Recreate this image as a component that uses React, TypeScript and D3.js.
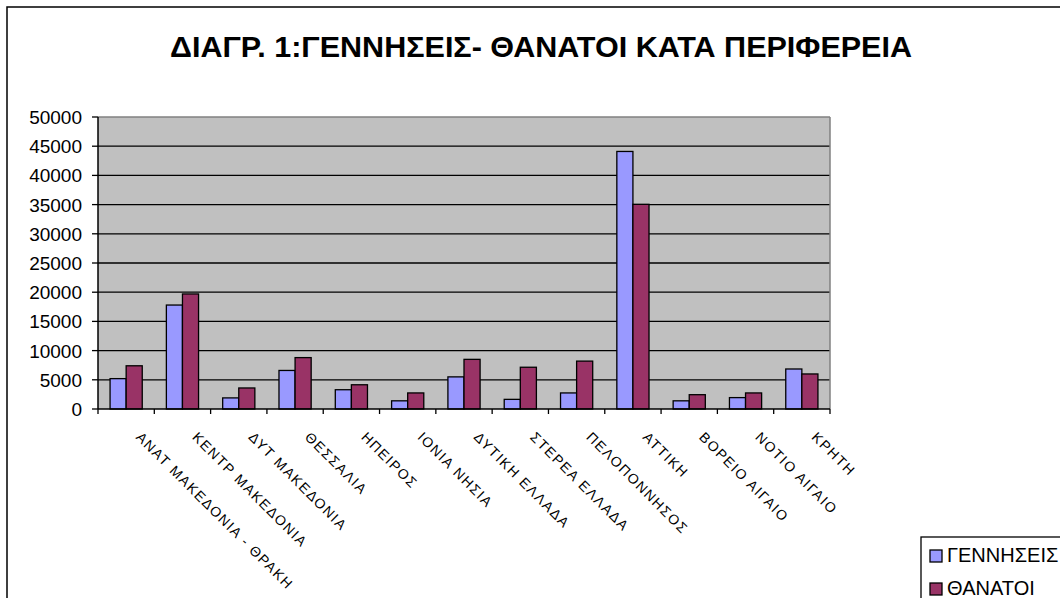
import * as React from 'react';
import * as d3 from 'd3';

const regions = [
  'ΑΝΑΤ ΜΑΚΕΔΟΝΙΑ - ΘΡΑΚΗ',
  'ΚΕΝΤΡ ΜΑΚΕΔΟΝΙΑ',
  'ΔΥΤ ΜΑΚΕΔΟΝΙΑ',
  'ΘΕΣΣΑΛΙΑ',
  'ΗΠΕΙΡΟΣ',
  'ΙΟΝΙΑ ΝΗΣΙΑ',
  'ΔΥΤΙΚΗ ΕΛΛΑΔΑ',
  'ΣΤΕΡΕΑ ΕΛΛΑΔΑ',
  'ΠΕΛΟΠΟΝΝΗΣΟΣ',
  'ΑΤΤΙΚΗ',
  'ΒΟΡΕΙΟ ΑΙΓΑΙΟ',
  'ΝΟΤΙΟ ΑΙΓΑΙΟ',
  'ΚΡΗΤΗ',
];

const births = [5200, 17800, 1900, 6600, 3300, 1400, 5500, 1650, 2750, 44100, 1400, 1950, 6850];
const deaths = [7400, 19700, 3600, 8800, 4150, 2750, 8500, 7150, 8200, 35050, 2450, 2750, 6000];

const seriesNames = ['ΓΕΝΝΗΣΕΙΣ', 'ΘΑΝΑΤΟΙ'];
const seriesColors = ['#9999FF', '#993366'];
const yTicks = [0, 5000, 10000, 15000, 20000, 25000, 30000, 35000, 40000, 45000, 50000];

const W = 1060;
const H = 598;
const plot = { left: 98, right: 830, top: 117, bottom: 409 };
const font = '"Liberation Sans", Arial, sans-serif';

export default function App() {
  const x = d3.scaleBand<string>().domain(regions).range([plot.left, plot.right]);
  const groupW = x.bandwidth() / 1.75;
  const inner = d3.scaleBand<string>().domain(seriesNames).range([0, groupW]);
  const y = d3.scaleLinear().domain([0, 50000]).range([plot.bottom, plot.top]);
  const series = [births, deaths];
  const bounds = regions.map((r) => x(r) as number).concat([plot.right]);

  return (
    <svg width={W} height={H} style={{ position: 'fixed', left: 0, top: 0, background: '#fff' }} fontFamily={font}>
      {/* chart frame, cut off at right and bottom */}
      <rect x={7} y={7} width={W + 20} height={H + 20} fill="#fff" stroke="#000" strokeWidth={1.5} />

      <text x={541} y={57} textAnchor="middle" fontSize={30} fontWeight="bold" textLength={742} lengthAdjust="spacingAndGlyphs">
        ΔΙΑΓΡ. 1:ΓΕΝΝΗΣΕΙΣ- ΘΑΝΑΤΟΙ ΚΑΤΑ ΠΕΡΙΦΕΡΕΙΑ
      </text>

      <rect x={plot.left} y={plot.top} width={plot.right - plot.left} height={plot.bottom - plot.top} fill="#C0C0C0" />
      {yTicks.filter((t) => t > 0 && t < 50000).map((t) => (
        <line key={t} x1={plot.left} x2={plot.right} y1={y(t)} y2={y(t)} stroke="#000" strokeWidth={1.3} />
      ))}
      <line x1={plot.left} x2={plot.right} y1={plot.top} y2={plot.top} stroke="#808080" strokeWidth={1.5} />
      <line x1={plot.right} x2={plot.right} y1={plot.top} y2={plot.bottom} stroke="#808080" strokeWidth={1.5} />

      {regions.map((r, i) => {
        const gx = (x(r) as number) + (x.bandwidth() - groupW) / 2;
        return series.map((s, k) => (
          <rect
            key={r + k}
            x={gx + (inner(seriesNames[k]) as number)}
            y={y(s[i])}
            width={inner.bandwidth()}
            height={plot.bottom - y(s[i])}
            fill={seriesColors[k]}
            stroke="#000"
            strokeWidth={1.3}
          />
        ));
      })}

      {/* axes */}
      <line x1={plot.left} x2={plot.left} y1={plot.top} y2={plot.bottom} stroke="#000" strokeWidth={1.5} />
      <line x1={plot.left} x2={plot.right} y1={plot.bottom} y2={plot.bottom} stroke="#000" strokeWidth={1.5} />
      {yTicks.map((t) => (
        <g key={t}>
          <line x1={plot.left - 6} x2={plot.left} y1={y(t)} y2={y(t)} stroke="#000" strokeWidth={1.3} />
          <text x={82} y={y(t) + 7} textAnchor="end" fontSize={19}>{t}</text>
        </g>
      ))}
      {bounds.map((b, i) => (
        <line key={i} x1={b} x2={b} y1={plot.bottom} y2={plot.bottom + 5} stroke="#000" strokeWidth={1.3} />
      ))}
      {regions.map((r) => {
        const lx = (x(r) as number) + x.bandwidth() / 2 + 9;
        const ly = 438;
        return (
          <text key={r} x={lx} y={ly} fontSize={14} letterSpacing={1.5} transform={`rotate(45, ${lx}, ${ly})`}>
            {r}
          </text>
        );
      })}

      {/* legend */}
      <rect x={921} y={537} width={160} height={80} fill="#fff" stroke="#000" strokeWidth={1.3} />
      {seriesNames.map((n, k) => (
        <g key={n}>
          <rect x={930} y={550 + k * 33} width={12} height={12} fill={seriesColors[k]} stroke="#000" strokeWidth={1.3} />
          <text x={947} y={562 + k * 33} fontSize={20}>{n}</text>
        </g>
      ))}
    </svg>
  );
}
